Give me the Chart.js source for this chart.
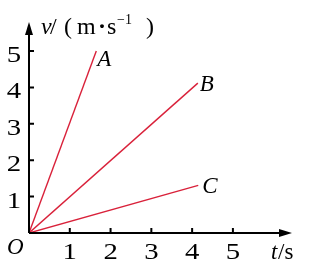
<!doctype html>
<html><head><meta charset="utf-8"><title>v-t graph</title>
<script src="https://cdn.jsdelivr.net/npm/chart.js"></script>
<style>html,body{margin:0;padding:0;background:#fff}#wrap{width:312px;height:262px}</style>
</head><body>
<div id="wrap"><canvas id="c" width="312" height="262"></canvas></div>
<script>
// data: three straight lines from the origin
const seriesNames = ['A', 'B', 'C'];
const lineA = [{x: 0, y: 0}, {x: 1.65, y: 5}];
const lineB = [{x: 0, y: 0}, {x: 4.14, y: 4.12}];
const lineC = [{x: 0, y: 0}, {x: 4.15, y: 1.31}];
const xTicks = [1, 2, 3, 4, 5];
const yTicks = [1, 2, 3, 4, 5];

const RED = '#d9213a';
const SERIF = '"Liberation Serif", "DejaVu Serif", serif';

// draw a list of [text, x, fontPrefix, dy] pieces on one baseline
function pieces(ctx, list, base) {
  list.forEach(p => {
    ctx.font = p[2] + SERIF;
    ctx.fillText(p[0], p[1], base + (p[3] || 0));
  });
}

// digits in the source are set wide, so stretch them a bit
function wideText(ctx, s, x, y, sx) {
  ctx.save();
  ctx.translate(x, y);
  ctx.scale(sx, 1);
  ctx.fillText(s, 0, 0);
  ctx.restore();
}

const axesPlugin = {
  id: 'axes',
  afterDatasetsDraw(chart) {
    const ctx = chart.ctx;
    const xs = chart.scales.x, ys = chart.scales.y;
    const x0 = xs.getPixelForValue(0), y0 = ys.getPixelForValue(0);
    const xEnd = xs.right + 2, yEnd = ys.top;
    ctx.save();
    ctx.strokeStyle = '#000';
    ctx.fillStyle = '#000';
    ctx.lineWidth = 2;
    // axes
    ctx.beginPath();
    ctx.moveTo(x0, y0); ctx.lineTo(xEnd - 8, y0);
    ctx.moveTo(x0, y0); ctx.lineTo(x0, yEnd + 8);
    ctx.stroke();
    // arrow heads
    ctx.beginPath();
    ctx.moveTo(xEnd, y0); ctx.lineTo(xEnd - 13, y0 - 4); ctx.lineTo(xEnd - 13, y0 + 4); ctx.closePath();
    ctx.fill();
    ctx.beginPath();
    ctx.moveTo(x0, yEnd); ctx.lineTo(x0 - 4, yEnd + 13); ctx.lineTo(x0 + 4, yEnd + 13); ctx.closePath();
    ctx.fill();
    // tick marks
    ctx.beginPath();
    xTicks.forEach(v => { const p = xs.getPixelForValue(v); ctx.moveTo(p, y0); ctx.lineTo(p, y0 - 5); });
    yTicks.forEach(v => { const p = ys.getPixelForValue(v); ctx.moveTo(x0, p); ctx.lineTo(x0 + 5, p); });
    ctx.stroke();
    // tick labels
    ctx.font = '23px ' + SERIF;
    ctx.textBaseline = 'alphabetic';
    ctx.textAlign = 'center';
    xTicks.forEach(v => wideText(ctx, String(v), xs.getPixelForValue(v), y0 + 26, 1.25));
    ctx.textAlign = 'right';
    yTicks.forEach(v => wideText(ctx, String(v), x0 - 8, ys.getPixelForValue(v) + 11, 1.25));
    // origin and axis titles
    ctx.textAlign = 'left';
    ctx.font = 'italic 23px ' + SERIF;
    ctx.fillText('O', 7, y0 + 21);
    pieces(ctx, [['t', 271, 'italic 23px '], ['/s', 278, '23px ']], y0 + 26);
    pieces(ctx, [
      ['v', 41, 'italic 24px '], ['/', 50, '24px '], ['(', 64, '24px '],
      ['m', 77, '24px '], ['\u00b7', 98, 'bold 24px '], ['s', 107, '24px '],
      ['\u22121', 117, '14px ', -10], [')', 146, '24px ']
    ], 34);
    // line names next to their end points
    ctx.font = 'italic 23px ' + SERIF;
    const ends = [lineA, lineB, lineC];
    const offs = [[1, 15], [2, 8], [4, 8]];
    ends.forEach((d, i) => {
      const p = d[d.length - 1];
      ctx.fillText(seriesNames[i], xs.getPixelForValue(p.x) + offs[i][0], ys.getPixelForValue(p.y) + offs[i][1]);
    });
    ctx.restore();
  }
};

const mkSet = (label, data) => ({
  label, data, showLine: true, borderColor: RED, borderWidth: 1.4,
  pointRadius: 0, fill: false, tension: 0
});

new Chart(document.getElementById('c'), {
  type: 'scatter',
  data: { datasets: [mkSet('A', lineA), mkSet('B', lineB), mkSet('C', lineC)] },
  options: {
    responsive: false,
    animation: false,
    layout: { padding: { left: 29, right: 22, top: 22, bottom: 29 } },
    plugins: { legend: { display: false }, tooltip: { enabled: false } },
    scales: {
      x: { type: 'linear', display: false, min: 0, max: 6.4 },
      y: { type: 'linear', display: false, min: 0, max: 5.8 }
    }
  },
  plugins: [axesPlugin]
});
</script>
</body></html>
